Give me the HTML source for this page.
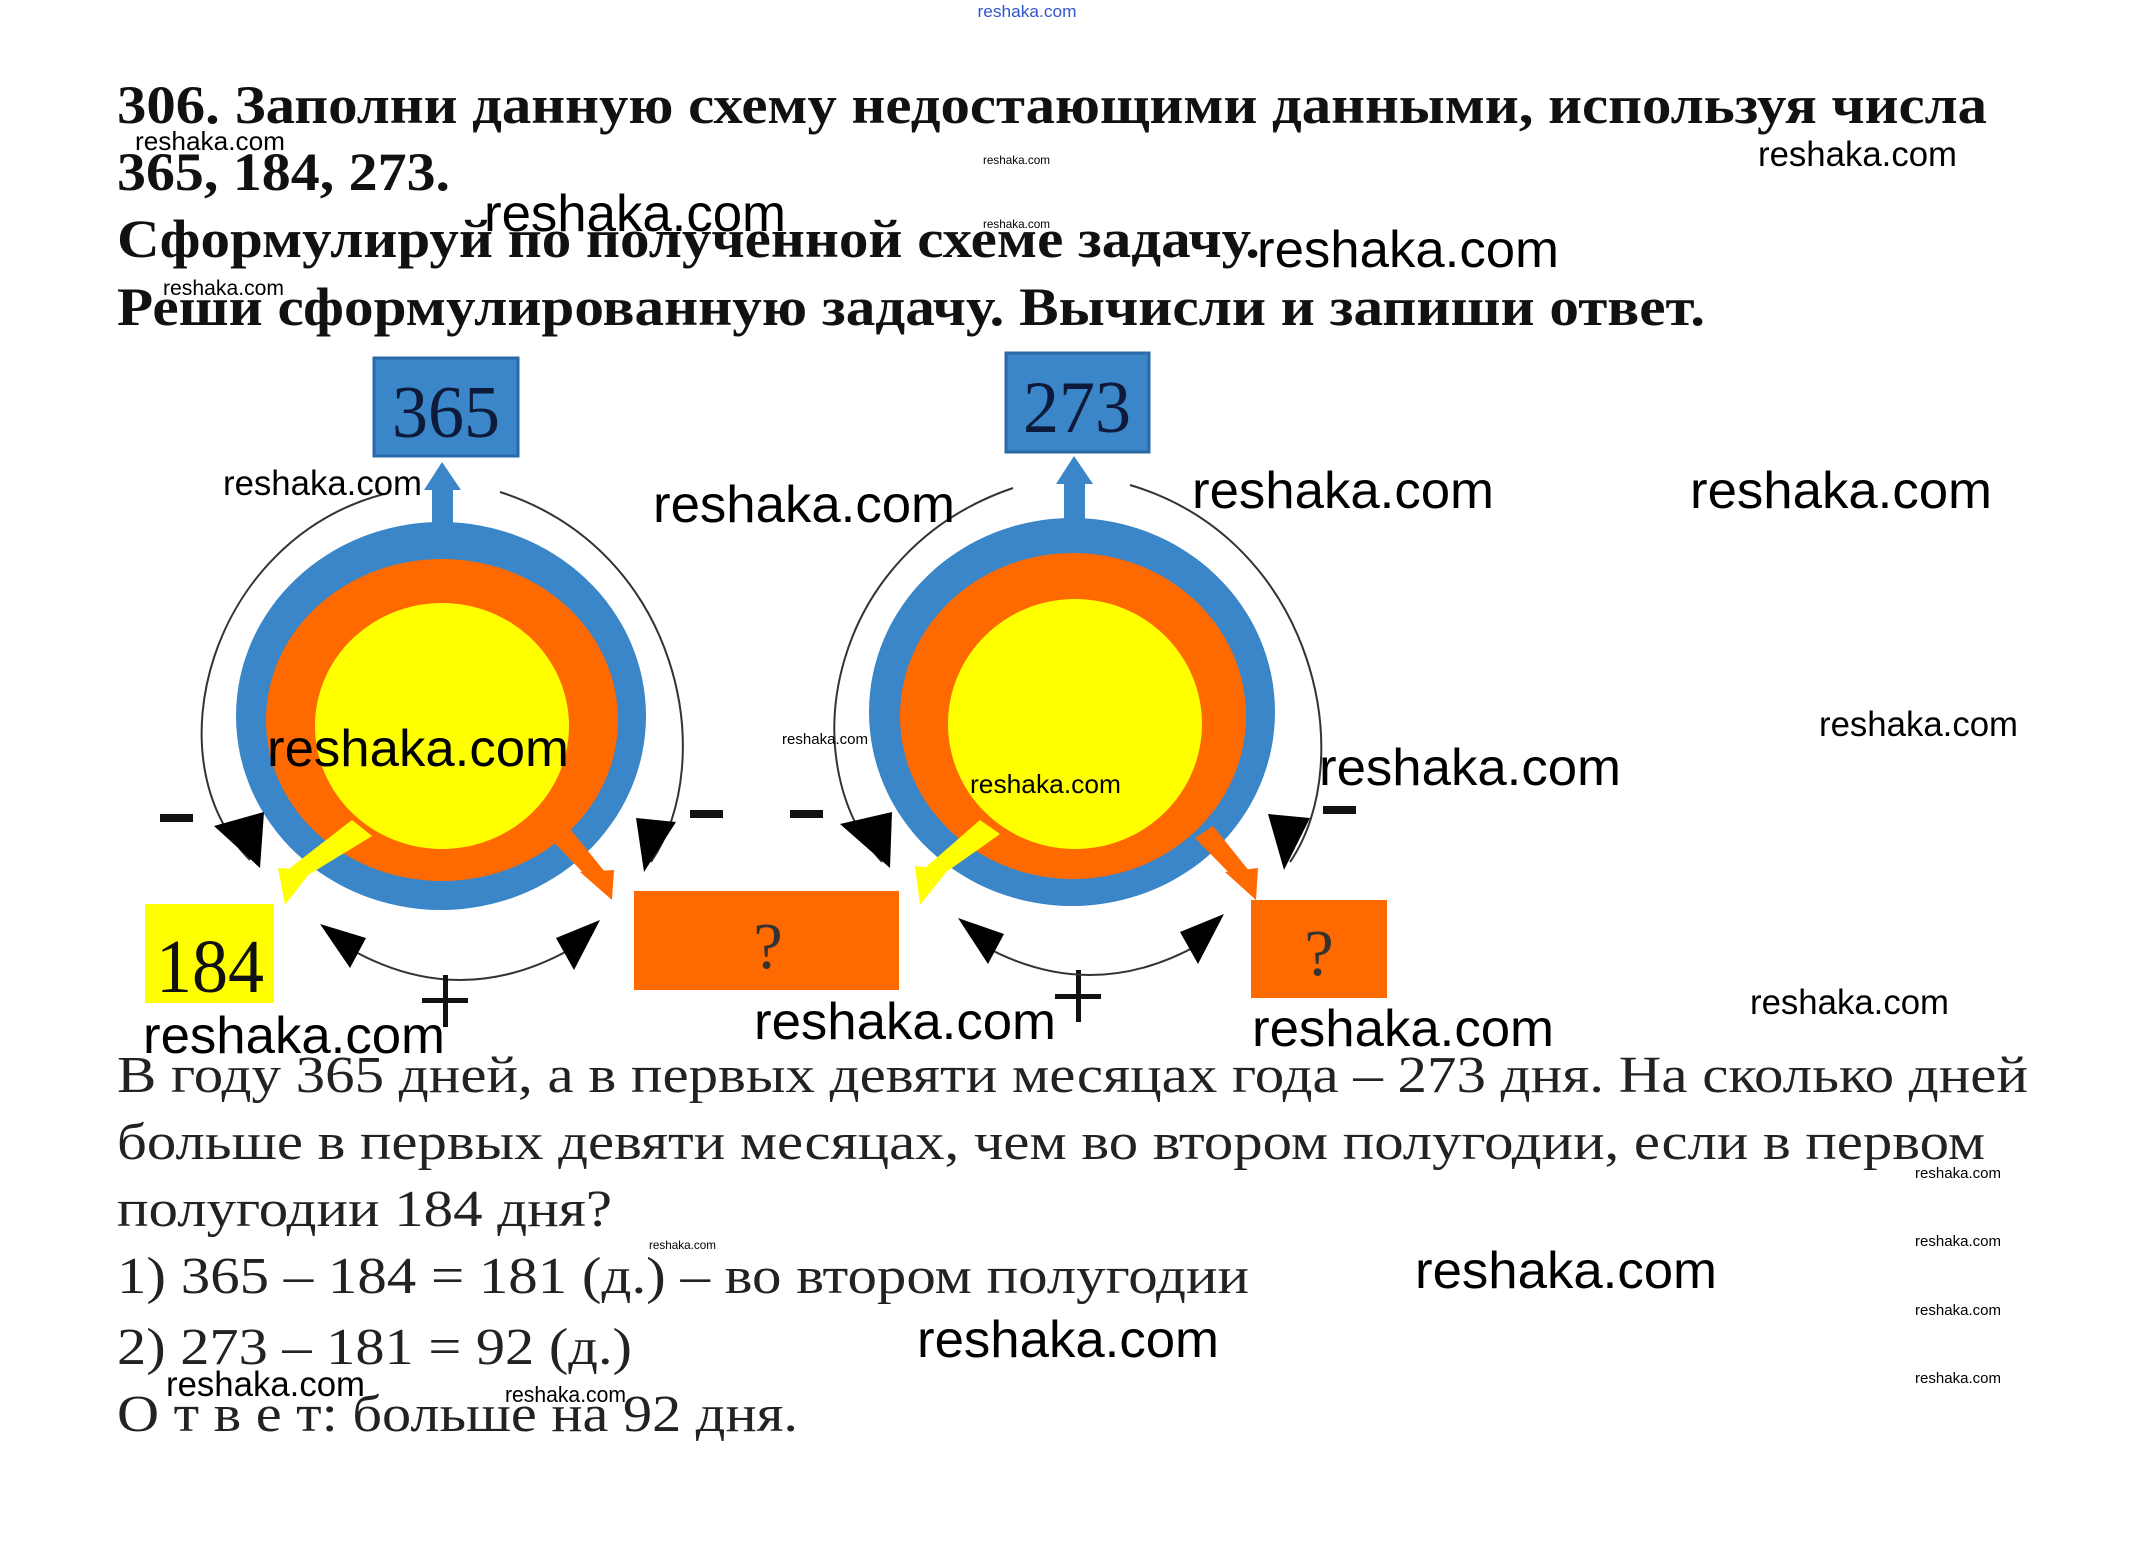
<!DOCTYPE html>
<html><head><meta charset="utf-8"><style>
html,body{margin:0;padding:0;background:#fff;}
svg{display:block;}
.h{font-family:"Liberation Serif",serif;font-weight:bold;font-size:54px;fill:#111;}
.b{font-family:"Liberation Serif",serif;font-size:52px;fill:#222;}
.w{font-family:"Liberation Sans",sans-serif;fill:#000;}
.n{font-family:"Liberation Serif",serif;}
</style></head><body>
<svg width="2142" height="1548" viewBox="0 0 2142 1548" xmlns="http://www.w3.org/2000/svg">
<rect width="2142" height="1548" fill="#fff"/>
<text class="h" x="117" y="123" textLength="1870" lengthAdjust="spacingAndGlyphs">306. Заполни данную схему недостающими данными, используя числа</text>
<text class="h" x="117" y="190" textLength="333" lengthAdjust="spacingAndGlyphs">365, 184, 273.</text>
<text class="h" x="117" y="257" textLength="1143" lengthAdjust="spacingAndGlyphs">Сформулируй по полученной схеме задачу.</text>
<text class="h" x="117" y="325" textLength="1588" lengthAdjust="spacingAndGlyphs">Реши сформулированную задачу. Вычисли и запиши ответ.</text>

<g>
<path d="M384,494 C210,540 150,760 250,860" fill="none" stroke="#333" stroke-width="2"/>
<path d="M500,492 C680,550 720,760 651,862" fill="none" stroke="#333" stroke-width="2"/>
<path d="M352,950 Q460,1010 569,950" fill="none" stroke="#333" stroke-width="2"/>
<ellipse cx="441" cy="716" rx="205" ry="194" fill="#3a86c8"/>
<ellipse cx="442" cy="720" rx="176" ry="161" fill="#ff6a00"/>
<ellipse cx="442" cy="726" rx="127" ry="123" fill="#ffff00"/>
<rect x="374" y="358" width="144" height="98" fill="#3a86c8" stroke="#2a6aa8" stroke-width="3"/>
<text class="n" x="446" y="437" font-size="74" text-anchor="middle" fill="#0d1a3a" textLength="108" lengthAdjust="spacingAndGlyphs">365</text>
<rect x="432" y="488" width="21" height="38" fill="#3a86c8"/>
<polygon points="424,490 442,462 461,490" fill="#3a86c8"/>
<polygon points="352,820 372,836 300,880 290,868" fill="#ffff00"/>
<polygon points="278,868 312,870 285,905" fill="#ffff00"/>
<polygon points="548,836 566,824 605,872 590,880" fill="#ff6a00"/>
<polygon points="580,872 614,870 612,900" fill="#ff6a00"/>
<polygon points="214,826 260,868 264,812" fill="#000"/>
<polygon points="636,818 676,822 644,872" fill="#000"/>
<polygon points="320,924 366,938 350,968" fill="#000"/>
<polygon points="600,920 556,938 574,970" fill="#000"/>
<rect x="145" y="904" width="129" height="99" fill="#ffff00"/>
<text class="n" x="210" y="992" font-size="76" text-anchor="middle" fill="#111" textLength="108" lengthAdjust="spacingAndGlyphs">184</text>
<rect x="634" y="891" width="265" height="99" fill="#ff6a00"/>
<text class="n" x="768" y="968" font-size="66" text-anchor="middle" fill="#333">?</text>
<rect x="160" y="814" width="33" height="8" fill="#111"/>
<rect x="690" y="810" width="33" height="8" fill="#111"/>
<rect x="790" y="810" width="33" height="8" fill="#111"/>
<rect x="1323" y="806" width="33" height="8" fill="#111"/>
<rect x="422" y="998" width="46" height="5" fill="#111"/><rect x="443" y="975" width="5" height="52" fill="#111"/>
<rect x="1055" y="994" width="46" height="5" fill="#111"/><rect x="1076" y="970" width="5" height="52" fill="#111"/>
</g>

<g>
<path d="M1013,488 C830,550 790,760 882,862" fill="none" stroke="#333" stroke-width="2"/>
<path d="M1130,485 C1315,540 1360,760 1290,862" fill="none" stroke="#333" stroke-width="2"/>
<path d="M982,945 Q1090,1005 1198,945" fill="none" stroke="#333" stroke-width="2"/>
<ellipse cx="1072" cy="712" rx="203" ry="194" fill="#3a86c8"/>
<ellipse cx="1073" cy="716" rx="173" ry="163" fill="#ff6a00"/>
<ellipse cx="1075" cy="724" rx="127" ry="125" fill="#ffff00"/>
<rect x="1006" y="353" width="143" height="99" fill="#3a86c8" stroke="#2a6aa8" stroke-width="3"/>
<text class="n" x="1077" y="432" font-size="74" text-anchor="middle" fill="#0d1a3a" textLength="108" lengthAdjust="spacingAndGlyphs">273</text>
<rect x="1064" y="482" width="21" height="40" fill="#3a86c8"/>
<polygon points="1056,484 1074,456 1093,484" fill="#3a86c8"/>
<polygon points="980,820 1000,834 935,880 925,868" fill="#ffff00"/>
<polygon points="915,866 948,870 920,905" fill="#ffff00"/>
<polygon points="1195,838 1213,826 1250,872 1236,880" fill="#ff6a00"/>
<polygon points="1225,872 1258,868 1256,900" fill="#ff6a00"/>
<polygon points="840,824 890,868 892,812" fill="#000"/>
<polygon points="1268,814 1310,818 1284,870" fill="#000"/>
<polygon points="958,918 1004,934 988,964" fill="#000"/>
<polygon points="1224,914 1180,932 1198,964" fill="#000"/>
<rect x="1251" y="900" width="136" height="98" fill="#ff6a00"/>
<text class="n" x="1319" y="975" font-size="66" text-anchor="middle" fill="#333">?</text>
</g>

<text class="b" x="117" y="1092" textLength="1911" lengthAdjust="spacingAndGlyphs">В году 365 дней, а в первых девяти месяцах года – 273 дня. На сколько дней</text>
<text class="b" x="117" y="1159" textLength="1868" lengthAdjust="spacingAndGlyphs">больше в первых девяти месяцах, чем во втором полугодии, если в первом</text>
<text class="b" x="117" y="1226" textLength="495" lengthAdjust="spacingAndGlyphs">полугодии 184 дня?</text>
<text class="b" x="117" y="1293" textLength="1132" lengthAdjust="spacingAndGlyphs">1) 365 – 184 = 181 (д.) – во втором полугодии</text>
<text class="b" x="117" y="1364" textLength="515" lengthAdjust="spacingAndGlyphs">2) 273 – 181 = 92 (д.)</text>
<text class="b" x="117" y="1431" textLength="681" lengthAdjust="spacingAndGlyphs">О т в е т: больше на 92 дня.</text>

<g class="w">
<text x="1027" y="17" font-size="17" text-anchor="middle" textLength="99" lengthAdjust="spacingAndGlyphs" style="fill:#3355cc">reshaka.com</text>
<text x="135" y="150" font-size="26" textLength="150" lengthAdjust="spacingAndGlyphs">reshaka.com</text>
<text x="983" y="164" font-size="12" textLength="67" lengthAdjust="spacingAndGlyphs">reshaka.com</text>
<text x="1758" y="166" font-size="35" textLength="199" lengthAdjust="spacingAndGlyphs">reshaka.com</text>
<text x="484" y="231" font-size="52" textLength="302" lengthAdjust="spacingAndGlyphs">reshaka.com</text>
<text x="983" y="228" font-size="12" textLength="67" lengthAdjust="spacingAndGlyphs">reshaka.com</text>
<text x="1257" y="267" font-size="52" textLength="302" lengthAdjust="spacingAndGlyphs">reshaka.com</text>
<text x="163" y="295" font-size="21" textLength="121" lengthAdjust="spacingAndGlyphs">reshaka.com</text>
<text x="223" y="495" font-size="35" textLength="199" lengthAdjust="spacingAndGlyphs">reshaka.com</text>
<text x="653" y="522" font-size="52" textLength="302" lengthAdjust="spacingAndGlyphs">reshaka.com</text>
<text x="1192" y="508" font-size="52" textLength="302" lengthAdjust="spacingAndGlyphs">reshaka.com</text>
<text x="1690" y="508" font-size="52" textLength="302" lengthAdjust="spacingAndGlyphs">reshaka.com</text>
<text x="267" y="766" font-size="52" textLength="302" lengthAdjust="spacingAndGlyphs">reshaka.com</text>
<text x="782" y="744" font-size="15" textLength="86" lengthAdjust="spacingAndGlyphs">reshaka.com</text>
<text x="970" y="793" font-size="26" textLength="151" lengthAdjust="spacingAndGlyphs">reshaka.com</text>
<text x="1319" y="785" font-size="52" textLength="302" lengthAdjust="spacingAndGlyphs">reshaka.com</text>
<text x="1819" y="736" font-size="35" textLength="199" lengthAdjust="spacingAndGlyphs">reshaka.com</text>
<text x="143" y="1053" font-size="52" textLength="302" lengthAdjust="spacingAndGlyphs">reshaka.com</text>
<text x="754" y="1039" font-size="52" textLength="302" lengthAdjust="spacingAndGlyphs">reshaka.com</text>
<text x="1252" y="1046" font-size="52" textLength="302" lengthAdjust="spacingAndGlyphs">reshaka.com</text>
<text x="1750" y="1014" font-size="35" textLength="199" lengthAdjust="spacingAndGlyphs">reshaka.com</text>
<text x="1915" y="1178" font-size="15" textLength="86" lengthAdjust="spacingAndGlyphs">reshaka.com</text>
<text x="1915" y="1246" font-size="15" textLength="86" lengthAdjust="spacingAndGlyphs">reshaka.com</text>
<text x="1915" y="1315" font-size="15" textLength="86" lengthAdjust="spacingAndGlyphs">reshaka.com</text>
<text x="1915" y="1383" font-size="15" textLength="86" lengthAdjust="spacingAndGlyphs">reshaka.com</text>
<text x="649" y="1249" font-size="12" textLength="67" lengthAdjust="spacingAndGlyphs">reshaka.com</text>
<text x="1415" y="1288" font-size="52" textLength="302" lengthAdjust="spacingAndGlyphs">reshaka.com</text>
<text x="917" y="1357" font-size="52" textLength="302" lengthAdjust="spacingAndGlyphs">reshaka.com</text>
<text x="166" y="1396" font-size="35" textLength="199" lengthAdjust="spacingAndGlyphs">reshaka.com</text>
<text x="505" y="1402" font-size="22" textLength="121" lengthAdjust="spacingAndGlyphs">reshaka.com</text>
</g>
</svg>
</body></html>
